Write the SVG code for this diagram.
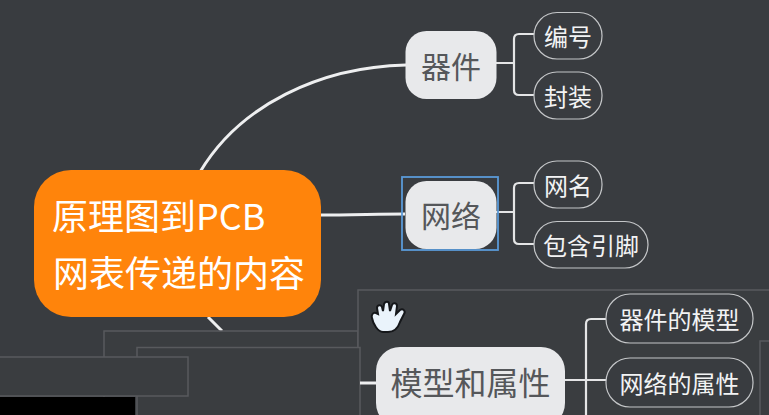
<svg xmlns="http://www.w3.org/2000/svg" width="769" height="415" viewBox="0 0 769 415">
<style>
text{font-family:"Noto Sans CJK SC","Noto Sans",sans-serif;text-anchor:middle}
.main{fill:#e8e9eb}
.mt{fill:#55575a;font-size:30px}
.sub{fill:#393c40;stroke:#c4c6c8;stroke-width:1.2}
.st{fill:#f2f3f4;font-size:24px}
.line{fill:none;stroke:#e4e5e6;stroke-width:2.2}
.thick{fill:none;stroke:#eeeff0;stroke-width:3}
.panel{fill:#3a3d40;stroke:#585a5d;stroke-width:1.500}
.ct{fill:#fff;font-size:36px;text-anchor:start}
</style>
<rect width="769" height="415" fill="#393c40"/>
<g id="connectors">
<path class="thick" d="M200 172C240 105 320 67 406 65"/>
<path class="thick" d="M320 215C350 215 380 214 405 214"/>
<path class="thick" d="M208 317L222 331"/>
<path class="line" d="M496 63H514M534 34H519Q514 34 514 39V90Q514 95 519 95H534"/>
<path class="line" d="M496 212H514M534 183H519Q514 183 514 188V239Q514 244 519 244H534"/>
</g>
<g id="node-center">
<rect x="34" y="170" width="287" height="147" rx="37" fill="#ff840b"/>
<text class="ct" x="52" y="230">原理图到PCB</text>
<text class="ct" x="53" y="287">网表传递的内容</text>
</g>
<g id="node-qijian">
<rect class="main" x="405.500" y="31" width="91" height="68" rx="21"/>
<text class="mt" x="451" y="78">器件</text>
</g>
<g id="node-wangluo">
<rect class="main" x="405.500" y="181" width="91" height="68" rx="21"/>
<text class="mt" x="451" y="227">网络</text>
<rect x="402" y="177" width="96" height="73" fill="none" stroke="#5a9ad8" stroke-width="1.800"/>
</g>
<g id="node-bianhao"><rect class="sub" x="534" y="12.500" width="68" height="46.500" rx="23"/><text class="st" x="568" y="45.500">编号</text></g>
<g id="node-fengzhuang"><rect class="sub" x="534" y="72" width="68" height="47" rx="23"/><text class="st" x="568" y="105.500">封装</text></g>
<g id="node-wangming"><rect class="sub" x="534" y="161" width="68" height="47" rx="23"/><text class="st" x="568" y="194.500">网名</text></g>
<g id="node-yinjiao"><rect class="sub" x="534" y="221.500" width="114" height="46.500" rx="23"/><text class="st" x="591" y="254.500">包含引脚</text></g>
<g id="overlays">
<rect class="panel" x="104" y="331" width="254" height="90"/>
<rect class="panel" x="358" y="290" width="420" height="135"/>
<rect class="panel" x="137" y="347.500" width="223" height="80"/>
<rect class="panel" x="-5" y="357" width="193" height="39"/>
<rect x="0" y="397" width="135" height="18" fill="#000"/>
<rect class="panel" x="760" y="341" width="20" height="80"/>
</g>
<g id="connectors-lower">
<path class="thick" d="M360 383H377"/>
<path class="line" d="M565 380H606M606 319H591Q586 319 586 324V415"/>
</g>
<g id="node-moxing">
<rect class="main" x="376" y="347" width="189" height="80" rx="24"/>
<text class="mt" style="font-size:32px" x="470.500" y="395">模型和属性</text>
</g>
<g id="node-qijianmoxing"><rect class="sub" x="606" y="294" width="147" height="49" rx="24"/><text class="st" x="679.500" y="329">器件的模型</text></g>
<g id="node-wangluoshuxing"><rect class="sub" x="606" y="358" width="147" height="49" rx="24"/><text class="st" x="679.500" y="393">网络的属性</text></g>
<path id="hand" d="M372 318C371 315 373 312 376 313L378 314L377 308C377 305 381 304 382 307L383 311L384 304C385 301 389 301 389 304L390 311L392 305C393 302 397 303 397 306L396 314L400 310C403 308 406 311 404 314L400 322C398 328 394 332 388 332H383C378 332 373 324 372 318Z" fill="#eaf3fb" stroke="#15171a" stroke-width="2"/>
</svg>
